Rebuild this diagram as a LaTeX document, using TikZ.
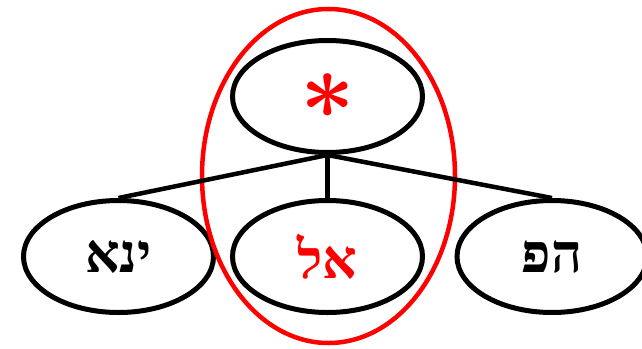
\documentclass[tikz,border=0pt]{standalone}
\usepackage{fontspec}
\usepackage{graphicx}
\usetikzlibrary{shapes.geometric}
\TeXXeTstate=1
\newfontfamily\hebfont[Script=Hebrew]{Liberation Serif}
\definecolor{cRed}{HTML}{FF0000}
\tikzset{
  wordnode/.style={
    draw=black, ellipse, line width=5pt,
    minimum width=190pt, minimum height=112pt, inner sep=0pt,
    font=\hebfont\bfseries\fontsize{54}{54}\selectfont, text=#1,
  },
  wordnode/.default=black,
  groupring/.style={
    draw=cRed, ellipse, line width=4.5pt,
    minimum width=253pt, minimum height=334pt, inner sep=0pt,
  },
  link/.style={line width=4.5pt, black},
}

\begin{document}
\begin{tikzpicture}[x=1pt, y=-1pt]
  \useasboundingbox (0,0) rectangle (642,348);

  % Nodes
  \node[wordnode, font=\normalsize\boldmath, text=cRed] (root) at (327.5,96.5) {\scalebox{9.5}{$\ast$}};
  \node[wordnode] (ani) at (118.5,256.5) {\beginR ינא\endR};
  \node[wordnode=cRed] (lo) at (327.5,256.5) {\beginR אל\endR};
  \node[wordnode] (po) at (552,256.5) {\beginR הפ\endR};

  % Ring round the middle branch
  \node[groupring] (ring) at (328.5,176) {};

  % Lines
  \draw[link] (root.south) -- (ani.north);
  \draw[link] (root.south) -- (lo.north);
  \draw[link] (root.south) -- (po.north);

\end{tikzpicture}
\end{document}
